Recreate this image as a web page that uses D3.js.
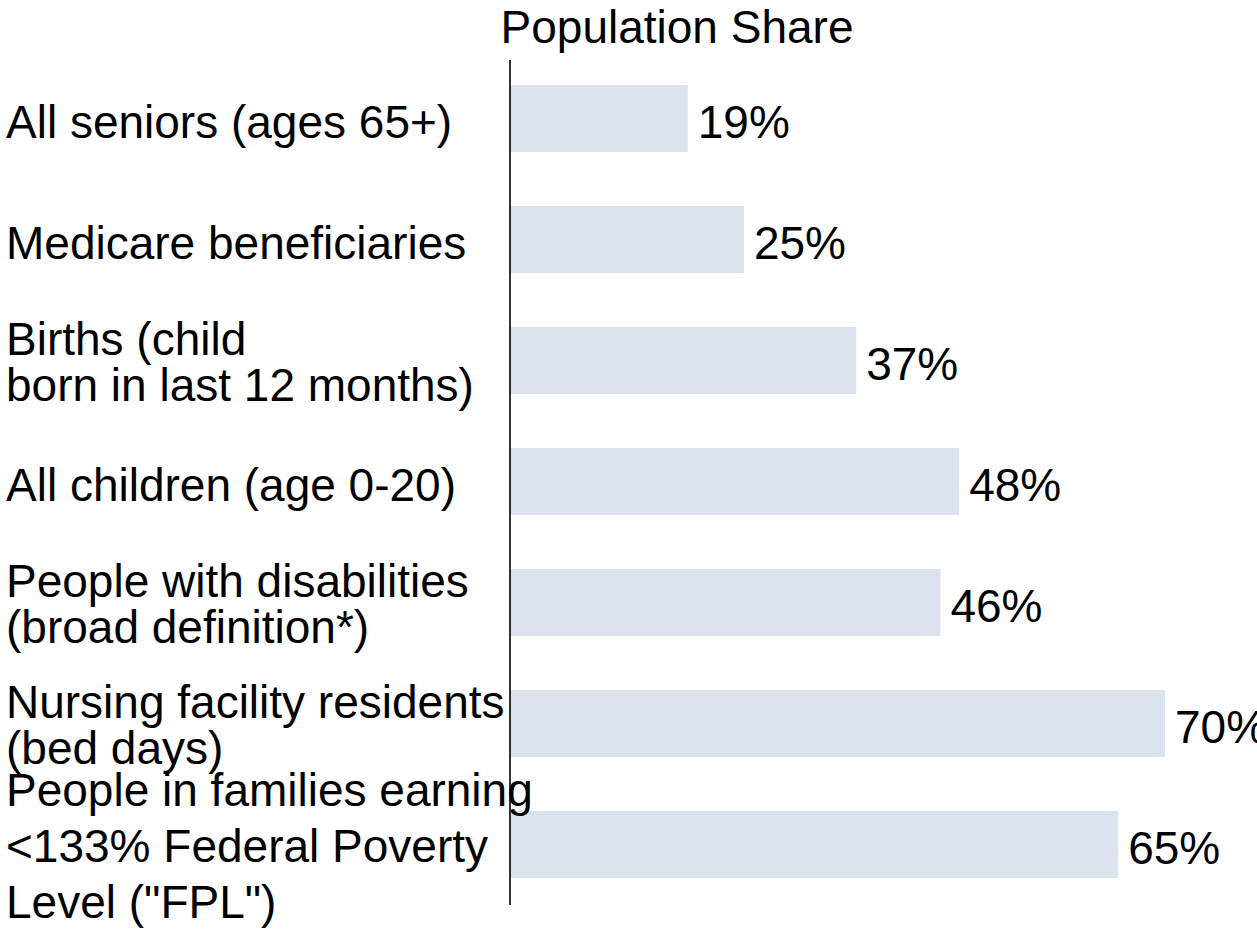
<!DOCTYPE html>
<html>
<head>
<meta charset="utf-8">
<script src="https://cdn.jsdelivr.net/npm/d3@7"></script>
<style>
  html, body { margin: 0; padding: 0; background: #ffffff; }
  svg { display: block; font-family: "Liberation Sans", Arial, sans-serif; }
</style>
</head>
<body>
<svg id="chart" width="1257" height="933"></svg>
<script>
const categories = [
  "All seniors (ages 65+)",
  "Medicare beneficiaries",
  "Births (child\nborn in last 12 months)",
  "All children (age 0-20)",
  "People with disabilities\n(broad definition*)",
  "Nursing facility residents\n(bed days)",
  "People in families earning\n<133% Federal Poverty\nLevel (\"FPL\")"
];
const values = [19, 25, 37, 48, 46, 70, 65];
const valueLabels = ["19%", "25%", "37%", "48%", "46%", "70%", "65%"];
const title = "Population Share";

const data = categories.map((c, i) => ({ cat: c, value: values[i], label: valueLabels[i] }));

const svg = d3.select("#chart");
const fontSize = 46;

const x = d3.scaleLinear().domain([0, 70]).range([510, 1165]);
const y = d3.scaleBand().domain(categories).range([58, 905]).paddingInner(0.446).paddingOuter(0.223);

// bars
svg.append("g").selectAll("rect").data(data).join("rect")
  .attr("x", x(0))
  .attr("y", d => y(d.cat))
  .attr("width", d => x(d.value) - x(0))
  .attr("height", y.bandwidth())
  .attr("fill", "#dde3ed");

// axis line
svg.append("line")
  .attr("x1", x(0)).attr("x2", x(0))
  .attr("y1", 60).attr("y2", 905)
  .attr("stroke", "#000").attr("stroke-width", 1.6);

// value labels
svg.append("g").selectAll("text").data(data).join("text")
  .attr("x", d => x(d.value) + 10)
  .attr("y", d => y(d.cat) + y.bandwidth() / 2 + 19)
  .attr("font-size", fontSize)
  .attr("fill", "#000")
  .text(d => d.label);

// category labels
const catG = svg.append("g");
data.forEach(d => {
  const lines = d.cat.split("\n");
  const lh = lines.length >= 3 ? 56 : 46;
  const cy = y(d.cat) + y.bandwidth() / 2;
  const off = lines.length === 1 ? 19 : 17;
  const firstBase = cy + off - (lines.length - 1) * lh / 2;
  const t = catG.append("text")
    .attr("x", 6)
    .attr("font-size", fontSize)
    .attr("fill", "#000");
  lines.forEach((ln, j) => {
    t.append("tspan").attr("x", 6).attr("y", firstBase + j * lh).text(ln);
  });
});

// title
svg.append("text")
  .attr("x", 677)
  .attr("y", 43)
  .attr("text-anchor", "middle")
  .attr("font-size", fontSize)
  .attr("fill", "#000")
  .text(title);
</script>
</body>
</html>
